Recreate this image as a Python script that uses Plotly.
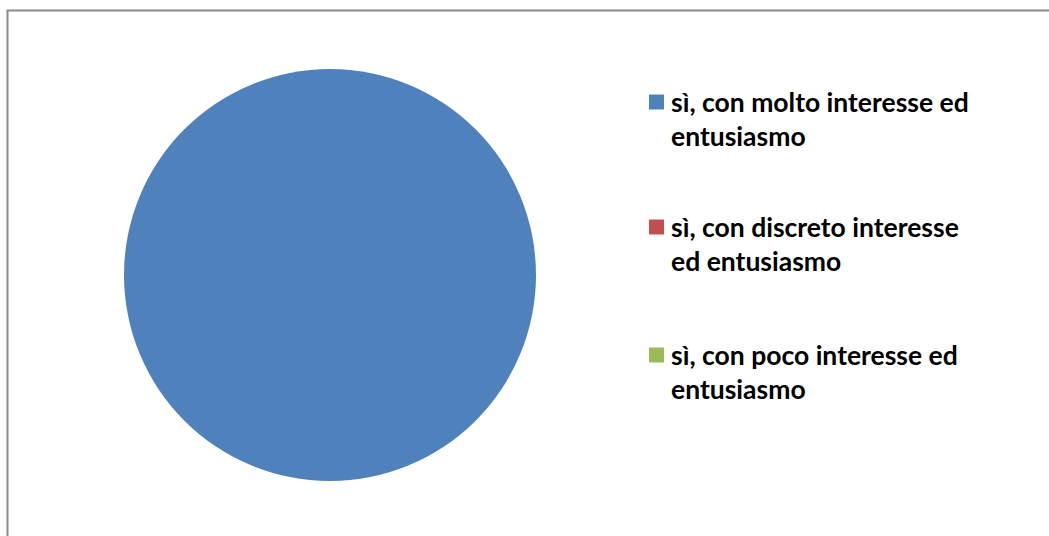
import plotly.graph_objects as go

labels = ["sì, con molto interesse ed<br>entusiasmo",
          "sì, con discreto interesse<br>ed entusiasmo",
          "sì, con poco interesse ed<br>entusiasmo"]
values = [100, 0, 0]
colors = ["#4F81BD", "#C0504D", "#9BBB59"]

W, H = 1049, 536
fig = go.Figure()
fig.add_trace(go.Pie(
    labels=labels, values=values, marker=dict(colors=colors, line=dict(width=0)),
    textinfo="none", sort=False, direction="clockwise", showlegend=False,
    hoverinfo="label+percent",
    domain=dict(x=[124 / W, 536 / W], y=[1 - 481 / H, 1 - 69 / H]),
))

# legend built from the series lists
font = dict(family="Lato", size=26.5, color="#000000")
entry_y = [102, 227, 355]
shapes = [dict(type="rect", xref="paper", yref="paper",
               x0=7.5 / W, x1=1.05, y0=-0.05, y1=1 - 10.5 / H,
               line=dict(color="#8A8A8A", width=2), fillcolor="rgba(0,0,0,0)")]
annotations = []
for lab, col, yc in zip(labels, colors, entry_y):
    shapes.append(dict(type="rect", xref="paper", yref="paper",
                       x0=649 / W, x1=664 / W, y0=1 - (yc + 7.5) / H, y1=1 - (yc - 7.5) / H,
                       line=dict(width=0), fillcolor=col))
    for i, line in enumerate(lab.split("<br>")):
        annotations.append(dict(xref="paper", yref="paper", x=669 / W, y=1 - (yc + 34 * i) / H,
                                xanchor="left", yanchor="middle", showarrow=False,
                                text="<b>" + line + "</b>", font=font))

fig.update_layout(width=W, height=H, margin=dict(l=0, r=0, t=0, b=0),
                  paper_bgcolor="white", plot_bgcolor="white",
                  shapes=shapes, annotations=annotations)
fig.write_html("out.html", config={"displayModeBar": False},
               post_script="document.body.style.margin='0';")
